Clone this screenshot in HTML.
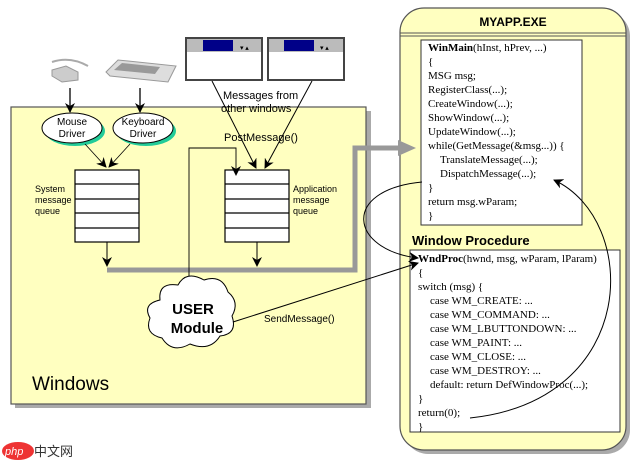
<!DOCTYPE html>
<html><head><meta charset="utf-8"><style>
body{margin:0;background:#fff}
svg{display:block}
.s{font-family:"Liberation Sans",sans-serif}
.c{font-family:"Liberation Serif",serif;font-size:11px}
</style></head><body>
<svg width="633" height="462" viewBox="0 0 633 462" xmlns="http://www.w3.org/2000/svg">
<defs>
<marker id="a" markerWidth="10" markerHeight="10" refX="9" refY="5" orient="auto" markerUnits="userSpaceOnUse"><path d="M0,0 L10,5 L0,10 L3,5 z" fill="#000"/></marker>
</defs>
<!-- Windows box -->
<rect x="15" y="111" width="356" height="297" fill="#aaa"/>
<rect x="11" y="107" width="355" height="297" fill="#ffffc0" stroke="#555" stroke-width="1.2"/>
<!-- MYAPP box -->
<rect x="404" y="12" width="226" height="442" rx="24" fill="#aaa"/>
<rect x="400" y="8" width="226" height="442" rx="24" fill="#ffffc0" stroke="#555" stroke-width="1.2"/>
<line x1="400" y1="33" x2="626" y2="33" stroke="#555"/>
<line x1="400" y1="36" x2="626" y2="36" stroke="#555"/>
<text x="513" y="26" class="s" font-size="12" font-weight="bold" text-anchor="middle">MYAPP.EXE</text>
<rect x="421" y="40" width="161" height="185" fill="#fff" stroke="#333"/>
<g class="c">
<text x="428" y="51"><tspan font-weight="bold">WinMain</tspan>(hInst, hPrev, ...)</text>
<text x="428" y="65">{</text>
<text x="428" y="79">MSG msg;</text>
<text x="428" y="93">RegisterClass(...);</text>
<text x="428" y="107">CreateWindow(...);</text>
<text x="428" y="121">ShowWindow(...);</text>
<text x="428" y="135">UpdateWindow(...);</text>
<text x="428" y="149">while(GetMessage(&amp;msg...)) {</text>
<text x="440" y="163">TranslateMessage(...);</text>
<text x="440" y="177">DispatchMessage(...);</text>
<text x="428" y="191">}</text>
<text x="428" y="205">return msg.wParam;</text>
<text x="428" y="219">}</text>
</g>
<text x="412" y="245" class="s" font-size="13" font-weight="bold">Window  Procedure</text>
<rect x="410" y="250" width="210" height="182" fill="#fff" stroke="#333"/>
<g class="c">
<text x="418" y="262"><tspan font-weight="bold">WndProc</tspan>(hwnd, msg, wParam, lParam)</text>
<text x="418" y="276">{</text>
<text x="418" y="290">switch (msg) {</text>
<text x="430" y="304">case WM_CREATE: ...</text>
<text x="430" y="318">case WM_COMMAND: ...</text>
<text x="430" y="332">case WM_LBUTTONDOWN: ...</text>
<text x="430" y="346">case WM_PAINT: ...</text>
<text x="430" y="360">case WM_CLOSE: ...</text>
<text x="430" y="374">case WM_DESTROY: ...</text>
<text x="430" y="388">default: return DefWindowProc(...);</text>
<text x="418" y="402">}</text>
<text x="418" y="416">return(0);</text>
<text x="418" y="430">}</text>
</g>
<!-- devices -->
<path d="M52,62 Q70,56 88,66" stroke="#aaa" fill="none" stroke-width="2"/>
<path d="M52,70 L66,66 L78,72 L78,80 L62,82 L52,76 z" fill="#ccc" stroke="#999"/>
<path d="M106,72 L118,60 L176,66 L168,82 L110,76 z" fill="#ddd" stroke="#999"/>
<path d="M114,70 L122,63 L160,67 L155,74 z" fill="#999"/>
<!-- small windows -->
<g>
<rect x="186" y="38" width="76" height="42" fill="#fff" stroke="#444" stroke-width="2"/>
<rect x="187" y="39" width="74" height="13" fill="#bbb"/>
<rect x="203" y="40" width="30" height="11" fill="#000088"/>
<rect x="268" y="38" width="76" height="42" fill="#fff" stroke="#444" stroke-width="2"/>
<rect x="269" y="39" width="74" height="13" fill="#bbb"/>
<rect x="284" y="40" width="30" height="11" fill="#000088"/>
<text x="240" y="50" font-size="7">▾ ▴</text>
<text x="320" y="50" font-size="7">▾ ▴</text>
</g>
<text x="223" y="99" class="s" font-size="11">Messages from</text>
<text x="221" y="112" class="s" font-size="11">other windows</text>
<text x="224" y="141" class="s" font-size="11">PostMessage()</text>
<line x1="212" y1="81" x2="256" y2="168" stroke="#000" marker-end="url(#a)"/>
<line x1="312" y1="81" x2="265" y2="168" stroke="#000" marker-end="url(#a)"/>
<!-- driver arrows -->
<line x1="70" y1="88" x2="70" y2="112" stroke="#000" stroke-width="1.3" marker-end="url(#a)"/>
<line x1="140" y1="88" x2="140" y2="112" stroke="#000" stroke-width="1.3" marker-end="url(#a)"/>
<ellipse cx="75" cy="131" rx="30" ry="15" fill="#2c9"/>
<ellipse cx="72" cy="128" rx="30" ry="15" fill="#fff" stroke="#000"/>
<ellipse cx="146" cy="131" rx="30" ry="15" fill="#2c9"/>
<ellipse cx="143" cy="128" rx="30" ry="15" fill="#fff" stroke="#000"/>
<text x="72" y="125" class="s" font-size="10" text-anchor="middle">Mouse</text>
<text x="72" y="137" class="s" font-size="10" text-anchor="middle">Driver</text>
<text x="143" y="125" class="s" font-size="10" text-anchor="middle">Keyboard</text>
<text x="143" y="137" class="s" font-size="10" text-anchor="middle">Driver</text>
<line x1="85" y1="144" x2="106" y2="167" stroke="#000" stroke-width="0.8" marker-end="url(#a)"/>
<line x1="130" y1="144" x2="109" y2="167" stroke="#000" stroke-width="0.8" marker-end="url(#a)"/>
<!-- queues -->
<g fill="#fff" stroke="#000" stroke-width="1.2">
<rect x="75" y="170" width="64" height="72"/>
<line x1="75" y1="184" x2="139" y2="184"/><line x1="75" y1="199" x2="139" y2="199"/><line x1="75" y1="213" x2="139" y2="213"/><line x1="75" y1="228" x2="139" y2="228"/>
<rect x="225" y="170" width="64" height="72"/>
<line x1="225" y1="184" x2="289" y2="184"/><line x1="225" y1="199" x2="289" y2="199"/><line x1="225" y1="213" x2="289" y2="213"/><line x1="225" y1="228" x2="289" y2="228"/>
</g>
<g class="s" font-size="9">
<text x="35" y="192">System</text><text x="35" y="203">message</text><text x="35" y="214">queue</text>
<text x="293" y="192">Application</text><text x="293" y="203">message</text><text x="293" y="214">queue</text>
</g>
<!-- gray route -->
<polyline points="107,270 355,270 355,148 400,148" fill="none" stroke="#999" stroke-width="5"/>
<path d="M398,140 L416,148 L398,156 z" fill="#999"/>
<line x1="107" y1="242" x2="107" y2="266" stroke="#000" marker-end="url(#a)"/>
<line x1="257" y1="242" x2="257" y2="266" stroke="#000" marker-end="url(#a)"/>
<!-- loop -->
<polyline points="189,292 189,148 236,148 236,175" fill="none" stroke="#000" stroke-width="0.9" marker-end="url(#a)"/>
<!-- cloud -->
<path d="M160,300 Q158,282 178,285 Q186,270 204,280 Q222,274 228,292 Q240,302 232,316 Q238,334 220,336 Q210,352 190,344 Q172,354 162,338 Q144,334 150,318 Q142,304 160,300 z" fill="#fff" stroke="#000"/>
<text x="193" y="314" class="s" font-size="15" font-weight="bold" text-anchor="middle">USER</text>
<text x="197" y="333" class="s" font-size="15" font-weight="bold" text-anchor="middle">Module</text>
<text x="264" y="322" class="s" font-size="10">SendMessage()</text>
<line x1="233" y1="322" x2="418" y2="263" stroke="#000" marker-end="url(#a)"/>
<text x="32" y="390" class="s" font-size="19">Windows</text>
<!-- curves -->
<path d="M422,182 C340,190 350,250 418,258" fill="none" stroke="#000" marker-end="url(#a)"/>
<path d="M470,418 C640,400 640,220 554,180" fill="none" stroke="#000" marker-end="url(#a)"/>
<!-- watermark -->
<ellipse cx="18" cy="451" rx="16" ry="9" fill="#e33"/>
<text x="5" y="455" font-size="11" fill="#fff" class="s" font-style="italic">php</text>
<text x="34" y="456" font-size="13" fill="#333" font-family="'Liberation Sans','Noto Sans CJK SC',sans-serif">中文网</text>
</svg>
</body></html>
